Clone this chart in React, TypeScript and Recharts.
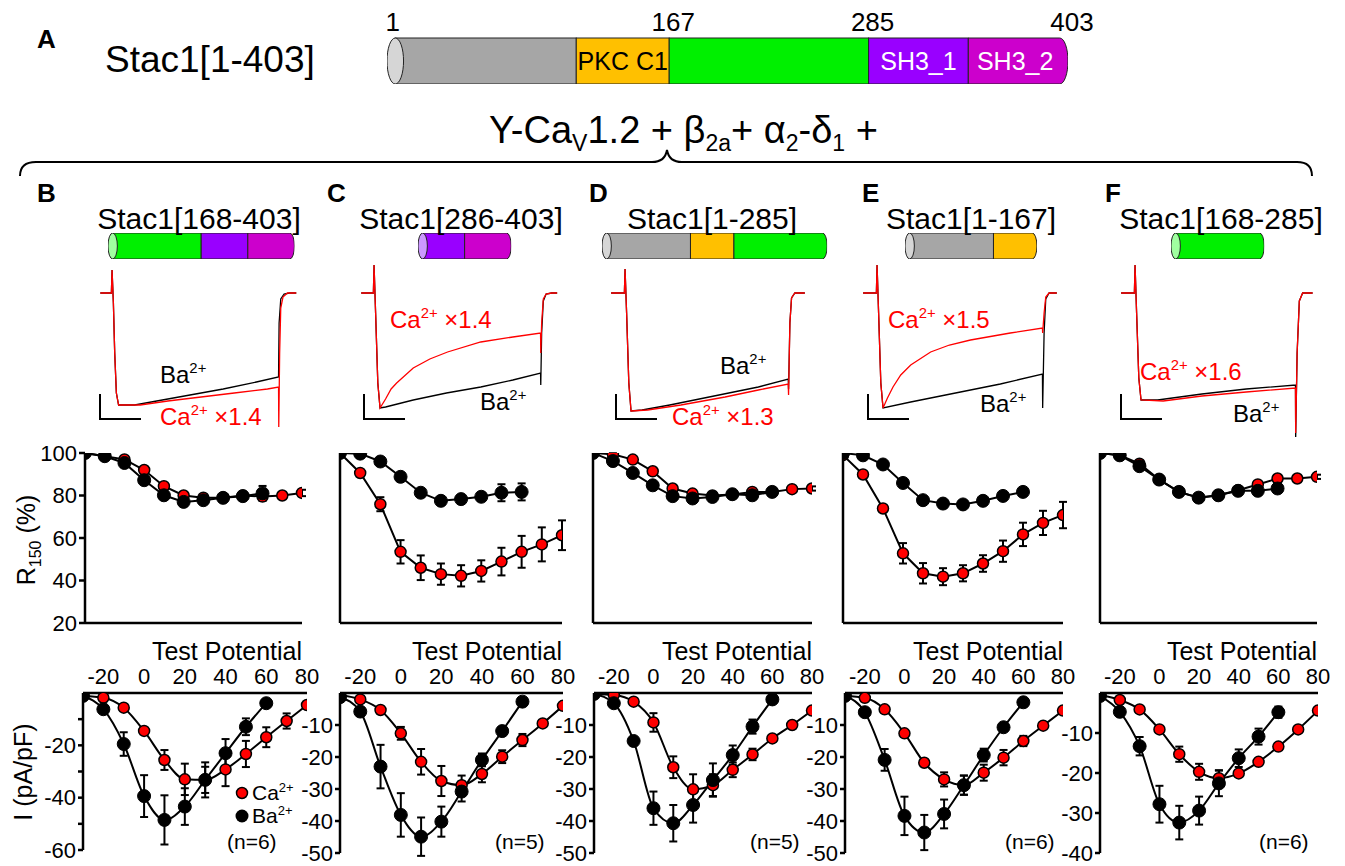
import React from 'react';
import { LineChart, Line, XAxis, YAxis, ErrorBar, BarChart, Bar } from 'recharts';

const FONT = '"Liberation Sans", Arial, Helvetica, sans-serif';

// ---------- Stac1 domain architecture ----------
const domainKeys = ['nterm', 'c1', 'linker', 'sh31', 'sh32'];
const domainLabels = ['', 'PKC C1', '', 'SH3_1', 'SH3_2'];
const domainLengths = [112, 55, 118, 59, 59];
const domainColors = ['#a6a6a6', '#ffc000', '#00f000', '#9900ff', '#cc00cc'];
const domainCapColors = ['#d6d6d6', '#ffe08a', '#a0ffa0', '#cc99ff', '#e899e8'];
const domainLabelColors = ['#000', '#000', '#000', '#fff', '#fff'];
const fullTicks = [1, 167, 285, 403];

const panelLetters = ['B', 'C', 'D', 'E', 'F'];
const constructTitles = ['Stac1[168-403]', 'Stac1[286-403]', 'Stac1[1-285]', 'Stac1[1-167]', 'Stac1[168-285]'];
const constructDomains = [[2, 3, 4], [3, 4], [0, 1, 2], [0, 1], [2]];

// ---------- Test potentials (mV) ----------
const voltages = [-30, -20, -10, 0, 10, 20, 30, 40, 50, 60, 70, 80];
const vTicks = [-20, 0, 20, 40, 60, 80];

// ---------- R150 (%) ----------
const r150Ba_B = [100, 98.5, 95.3, 87.2, 80.1, 77, 77.8, 78.9, 79.7, 81];
const r150BaErr_B = [0, 0.5, 1, 1.5, 1.5, 1.5, 1.5, 1.5, 2, 3.5];
const r150Ca_B = [100, 98.5, 97, 92, 84.4, 80, 79, 79, 80, 79.5, 80, 81.2];
const r150CaErr_B = [0, 0.5, 0.5, 1, 1, 1, 1, 1, 1, 1.5, 1.5, 1.5];

const r150Ba_C = [100, 99.7, 96, 88.8, 81.3, 77.5, 78.3, 79.4, 81.3, 81.7];
const r150BaErr_C = [0, 0, 0.5, 1, 1, 1, 1, 2, 4, 4];
const r150Ca_C = [100, 90.6, 75.9, 53.5, 46, 43, 42.2, 44.5, 48.9, 53.5, 57, 61.3];
const r150CaErr_C = [0, 1, 3.3, 5.5, 5.8, 5, 5, 5, 6.5, 7.5, 8, 7];

const r150Ba_D = [100, 96.2, 90.6, 84.8, 79.7, 78.6, 79.3, 80.6, 80.1, 81.7];
const r150BaErr_D = [0, 1, 1, 1.5, 1, 1, 1, 1, 1, 1.5];
const r150Ca_D = [100, 99.4, 96.9, 91.4, 83.3, 80.9, 80, 80.5, 81.7, 81.7, 83, 83.3];
const r150CaErr_D = [0, 0.5, 1, 1, 1, 1, 1, 1, 1, 1, 1, 1];

const r150Ba_E = [100, 98.9, 94.6, 85.9, 77.8, 76.2, 75.8, 77.5, 79.8, 81.7];
const r150BaErr_E = [0, 0, 0.5, 0.5, 0.5, 0.5, 1, 1, 1, 1.5];
const r150Ca_E = [99, 89.9, 73.9, 52.8, 43.4, 41.8, 43.4, 48, 53.8, 61.7, 67.1, 70.8];
const r150CaErr_E = [0, 1, 1.5, 4.8, 4.8, 4, 3.8, 3.9, 5, 5.5, 5.7, 6.2];

const r150Ba_F = [100, 98.9, 93.8, 87.5, 81.7, 79, 80.1, 82.2, 82.2, 83.3];
const r150BaErr_F = [0, 0, 0.5, 0.5, 1, 1, 1, 1, 1, 1];
const r150Ca_F = [100, 98.9, 95, 87.5, 81.7, 79, 80.1, 82.5, 85.2, 88, 88, 88.8];
const r150CaErr_F = [0, 0, 0.5, 0.5, 1, 1, 1, 1, 1, 1, 1, 1];

// ---------- I-V (pA/pF) ----------
const ivBa_B = [-1.1, -6.2, -19.5, -39.4, -48.5, -43.4, -33.2, -23, -12.9, -3.9];
const ivBaErr_B = [0, 1, 4.5, 8, 9.4, 7, 6.7, 5.4, 3.2, 0];
const ivCa_B = [-1.1, -1.8, -5.6, -14.5, -25.6, -33, -33.2, -29.2, -23.3, -16.9, -10.7, -4.6];
const ivCaErr_B = [0, 0, 0, 1, 3.8, 6, 5, 6.4, 5, 3.8, 2.9, 0];

const ivBa_C = [-1.3, -5.8, -23, -38.1, -44.9, -40.2, -30.8, -20.9, -11.9, -2.7];
const ivBaErr_C = [0, 0, 6.8, 6.8, 6, 4.7, 3.1, 2, 0, 0];
const ivCa_C = [-0.6, -2, -5.3, -12.6, -21.5, -27.5, -28.8, -25.3, -19.9, -14.7, -9.5, -4];
const ivCaErr_C = [0, 0, 0, 2, 4, 4.7, 3, 2.6, 2, 1.9, 0, 0];

const ivBa_D = [-0.3, -3.2, -15, -36, -40.7, -35, -27.2, -19.4, -10.5, -2];
const ivBaErr_D = [0, 0, 0, 5.2, 5.7, 5.5, 5.2, 3, 2.2, 0];
const ivCa_D = [-0.3, -0.6, -2.7, -9.2, -23.2, -30.1, -28.8, -24, -19.2, -14.2, -10, -5.5];
const ivCaErr_D = [0, 0, 0, 2.9, 3.4, 4.7, 3.4, 2.3, 1.8, 0, 0, 0];

const ivBa_E = [-0.9, -6, -20.9, -38.4, -43.6, -37.8, -28.8, -19.4, -10.7, -2.9];
const ivBaErr_E = [0, 0, 3.4, 6, 5.5, 4.5, 3, 2, 0, 0];
const ivCa_E = [-0.9, -1.5, -5.1, -12.6, -21.8, -27, -28.8, -24.9, -20.2, -15, -10.2, -5.5];
const ivCaErr_E = [0, 0, 0, 0, 0, 2.2, 3, 2.5, 2.4, 1.6, 0, 0];

const ivBa_F = [-0.75, -4.7, -13.3, -27.8, -32.4, -29.4, -22.6, -16.3, -10.9, -4.8];
const ivBaErr_F = [0, 0, 2.3, 4.6, 4.2, 3.5, 3.2, 2.2, 2, 1.4];
const ivCa_F = [-0.5, -1.75, -4.1, -9.1, -15.3, -19.7, -21.3, -20.1, -17.2, -13.4, -9.1, -4.4];
const ivCaErr_F = [0, 0, 0, 0, 1.9, 2, 2, 0, 0, 0, 0, 0];

const ivTicks_B = [-60, -50, -40, -30, -20, -10];
const ivTicks_CDE = [-50, -40, -30, -20, -10];
const ivTicks_F = [-40, -30, -20, -10];
const r150Ticks = [20, 40, 60, 80, 100];
const nLabels = ['(n=6)', '(n=5)', '(n=5)', '(n=6)', '(n=6)'];

// ---------- Example current traces: [time (ms), relative current (a.u.)] ----------
const traceBa_B = [[-11, 0], [-1, 0], [-0.4, 23], [0.8, -10], [2, -60], [3.5, -100], [5.5, -112], [20, -112], [40, -108], [70, -102], [100, -96], [130, -89], [150, -84], [150.5, -30], [152, -6], [155, -1], [160, 0], [166, 0]];
const traceCa_B = [[-11, 0], [-1, 0], [-0.4, 23], [0.8, -10], [2, -60], [3.5, -100], [5.5, -112], [25, -112], [50, -108], [80, -104], [110, -100], [140, -96], [150, -94], [150.2, -134], [151, -60], [152, -15], [154, -4], [158, 0], [166, 0]];
const traceBa_C = [[-12, 0], [-1, 0], [-0.4, 28], [1, -20], [3, -90], [5, -115], [10, -114], [35, -107], [65, -100], [96, -94], [125, -87], [150, -80], [150.2, -92], [151, -40], [152.5, -8], [155, -1], [160, 0], [165, 0]];
const traceCa_C = [[-12, 0], [-1, 0], [-0.4, 28], [1, -20], [3, -90], [5, -115], [10, -106], [15, -96], [20, -90], [35, -75], [50, -66], [66, -59], [96, -49], [125, -44], [150, -40], [150.2, -60], [151, -30], [152.5, -6], [155, -1], [160, 0], [165, 0]];
const traceBa_D = [[-13, 0], [-1, 0], [-0.4, 24], [1, -20], [3, -90], [5, -118], [15, -117], [40, -112], [80, -103], [120, -94], [147, -86], [147.3, -96], [148.5, -30], [150, -5], [153, 0], [162, 0]];
const traceCa_D = [[-13, 0], [-1, 0], [-0.4, 24], [1, -20], [3, -90], [5, -118], [20, -117], [50, -112], [90, -104], [120, -97], [147, -91], [147.3, -102], [148.5, -30], [150, -5], [153, 0], [162, 0]];
const traceBa_E = [[-13, 0], [-1, 0], [-0.4, 28], [1, -20], [3, -90], [5, -115], [30, -109], [75, -99], [111, -91], [149, -81], [149.2, -115], [150.5, -40], [152, -6], [155, 0], [162, 0]];
const traceCa_E = [[-13, 0], [-1, 0], [-0.4, 28], [1, -20], [3, -90], [5, -115], [9, -105], [14, -94], [21, -82], [30, -72], [48, -59], [65, -52], [84, -47], [120, -40], [149, -35], [149.2, -40], [150.5, -20], [152, -4], [155, 0], [162, 0]];
const traceBa_F = [[-13, 0], [-1, 0], [-0.4, 28], [1, -20], [3, -85], [5, -107], [20, -107], [60, -101], [100, -96], [144.5, -92], [144.7, -144], [146, -60], [148, -8], [151, 0], [160, 0]];
const traceCa_F = [[-13, 0], [-1, 0], [-0.4, 28], [1, -20], [3, -85], [5, -107], [25, -108], [60, -103], [100, -99], [144.5, -95], [144.7, -140], [146, -60], [148, -8], [151, 0], [160, 0]];
const caFactors = ['1.4', '1.4', '1.3', '1.5', '1.6'];

// ---------- assemble ----------
const r150 = [
  [r150Ba_B, r150BaErr_B, r150Ca_B, r150CaErr_B],
  [r150Ba_C, r150BaErr_C, r150Ca_C, r150CaErr_C],
  [r150Ba_D, r150BaErr_D, r150Ca_D, r150CaErr_D],
  [r150Ba_E, r150BaErr_E, r150Ca_E, r150CaErr_E],
  [r150Ba_F, r150BaErr_F, r150Ca_F, r150CaErr_F],
];
const iv = [
  [ivBa_B, ivBaErr_B, ivCa_B, ivCaErr_B],
  [ivBa_C, ivBaErr_C, ivCa_C, ivCaErr_C],
  [ivBa_D, ivBaErr_D, ivCa_D, ivCaErr_D],
  [ivBa_E, ivBaErr_E, ivCa_E, ivCaErr_E],
  [ivBa_F, ivBaErr_F, ivCa_F, ivCaErr_F],
];
const ivTicks = [ivTicks_B, ivTicks_CDE, ivTicks_CDE, ivTicks_CDE, ivTicks_F];
const traces = [
  [traceBa_B, traceCa_B], [traceBa_C, traceCa_C], [traceBa_D, traceCa_D], [traceBa_E, traceCa_E], [traceBa_F, traceCa_F],
];

const rows = (vals: number[], errs: number[]) => vals.map((y, i) => ({ v: voltages[i], y, e: errs[i] }));
const trRows = (pts: number[][]) => pts.map(([t, i]) => ({ t, i }));

// ---------- layout (pixels) ----------
const L = {
  r150X: [85, 340, 593, 843, 1100],
  r150W: [217, 222, 219, 220, 217],
  ivX: [83, 340, 594, 845, 1100],
  ivW: [224, 223, 218, 218, 218],
  ivH: [157, 160, 160, 160, 160],
  onset: [112, 374, 625, 877, 1135],
  cylX: [108, 418, 602, 905, 1171],
  letterX: [37, 327, 589, 862, 1105],
  titleX: [199, 461, 712, 971, 1221],
  nX: [227, 495, 750, 1005, 1259],
};

const AX = { stroke: '#000', strokeWidth: 2.5 };
const TICKFONT = { fontSize: 22, fill: '#000', fontFamily: FONT };

function CylSeg(props: any) {
  const { x, y, width, height, idx, first, last, showLabel } = props;
  if (width == null || height == null) return null;
  const rx = Math.max(4, height * 0.18);
  const fill = domainColors[idx];
  const parts: any[] = [];
  const xs = first ? x + rx : x;
  if (last) {
    parts.push(
      <path key="b" d={`M${xs},${y} H${x + width - rx} A${rx},${height / 2} 0 0 1 ${x + width - rx},${y + height} H${xs} Z`} fill={fill} stroke="#222" strokeWidth={1} />
    );
  } else {
    parts.push(<rect key="b" x={xs} y={y} width={x + width - xs} height={height} fill={fill} stroke="#222" strokeWidth={1} />);
  }
  if (first) {
    parts.push(<ellipse key="e" cx={x + rx} cy={y + height / 2} rx={rx} ry={height / 2} fill={domainCapColors[idx]} stroke="#222" strokeWidth={1} />);
  }
  if (showLabel && domainLabels[idx]) {
    parts.push(
      <text key="t" x={x + width / 2 + (last ? -3 : 0)} y={y + height / 2 + 9} textAnchor="middle" fontSize={25} fill={domainLabelColors[idx]} fontFamily={FONT}>
        {domainLabels[idx]}
      </text>
    );
  }
  return <g>{parts}</g>;
}

function Cylinder({ left, top, pxPerRes, height, domains, showLabels, showTicks }: any) {
  const total = domains.reduce((s: number, d: number) => s + domainLengths[d], 0);
  const row: any = { name: 'stac1' };
  domains.forEach((d: number) => { row[domainKeys[d]] = domainLengths[d]; });
  const axisH = showTicks ? 38 : 0;
  const mL = 12, mR = 30;
  return (
    <div style={{ position: 'absolute', left: left - mL, top: top - axisH }}>
      <BarChart width={total * pxPerRes + mL + mR} height={height + axisH} data={[row]} layout="vertical"
        margin={{ top: 0, right: mR, bottom: 0, left: mL }} barCategoryGap={0} barGap={0}>
        <XAxis type="number" domain={[0, total]} orientation="top" hide={!showTicks} height={axisH}
          ticks={showTicks ? fullTicks : undefined} interval={0} tickLine={false} axisLine={false} tickSize={0} tickMargin={7}
          tick={{ fontSize: 26, fill: '#000', fontFamily: FONT, dx: 4 }} allowDataOverflow />
        <YAxis type="category" dataKey="name" hide />
        {domains.map((d: number, k: number) => (
          <Bar key={domainKeys[d]} dataKey={domainKeys[d]} stackId="s" isAnimationActive={false}
            shape={(p: any) => <CylSeg {...p} idx={d} first={k === 0} last={k === domains.length - 1} showLabel={showLabels} />} />
        ))}
      </BarChart>
    </div>
  );
}

function R150Chart({ i }: { i: number }) {
  const [ba, baE, ca, caE] = r150[i];
  const x0 = L.r150X[i], w = L.r150W[i];
  const yw = 60;
  return (
    <div style={{ position: 'absolute', left: x0 - yw, top: 440 }}>
      <LineChart width={yw + w + 12} height={13 + 170 + 22} margin={{ top: 13, right: 12, bottom: 10, left: 0 }}>
        <XAxis type="number" dataKey="v" domain={[-30, 80]} ticks={vTicks} interval={0} tick={false} tickSize={8} height={12}
          stroke="#000" axisLine={AX} tickLine={AX} allowDataOverflow />
        <YAxis type="number" domain={[20, 100]} ticks={r150Ticks} interval={0} width={yw} tickSize={6}
          tick={i === 0 ? TICKFONT : false} stroke="#000" axisLine={AX} tickLine={AX} allowDataOverflow />
        <Line data={rows(ca, caE)} dataKey="y" type="linear" stroke="#000" strokeWidth={2} isAnimationActive={false}
          dot={{ r: 5.5, fill: '#ff0000', stroke: '#000', strokeWidth: 1.5 }} activeDot={false}>
          <ErrorBar dataKey="e" width={4} stroke="#000" strokeWidth={2} direction="y" isAnimationActive={false} />
        </Line>
        <Line data={rows(ba, baE)} dataKey="y" type="linear" stroke="#000" strokeWidth={2} isAnimationActive={false}
          dot={{ r: 6.5, fill: '#000', stroke: '#000', strokeWidth: 1 }} activeDot={false}>
          <ErrorBar dataKey="e" width={4} stroke="#000" strokeWidth={2} direction="y" isAnimationActive={false} />
        </Line>
      </LineChart>
    </div>
  );
}

function IVChart({ i }: { i: number }) {
  const [ba, baE, ca, caE] = iv[i];
  const x0 = L.ivX[i], w = L.ivW[i], h = L.ivH[i];
  const ticks = ivTicks[i];
  const yMin = ticks[0];
  const yw = 60;
  return (
    <div style={{ position: 'absolute', left: x0 - yw, top: 660 }}>
      <LineChart width={yw + w + 16} height={33 + h + 14} margin={{ top: 0, right: 16, bottom: 14, left: 0 }}>
        <XAxis type="number" dataKey="v" orientation="top" domain={[-30, 80]} ticks={vTicks} interval={0} height={33}
          tickLine={false} tickSize={6} tickMargin={3} tick={TICKFONT} stroke="#000" axisLine={AX} allowDataOverflow />
        <YAxis type="number" domain={[yMin, 0]} ticks={ticks} interval={0} width={yw} tickSize={5} tickMargin={2}
          tick={TICKFONT} tickFormatter={(v: number) => (i === 0 && v % 20 !== 0 ? '' : String(v))}
          stroke="#000" axisLine={AX} tickLine={AX} allowDataOverflow />
        <Line data={rows(ca, caE)} dataKey="y" type="monotone" stroke="#000" strokeWidth={2} isAnimationActive={false}
          dot={{ r: 5.5, fill: '#ff0000', stroke: '#000', strokeWidth: 1.5 }} activeDot={false}>
          <ErrorBar dataKey="e" width={4} stroke="#000" strokeWidth={2} direction="y" isAnimationActive={false} />
        </Line>
        <Line data={rows(ba, baE)} dataKey="y" type="monotone" stroke="#000" strokeWidth={2} isAnimationActive={false}
          dot={{ r: 6.5, fill: '#000', stroke: '#000', strokeWidth: 1 }} activeDot={false}>
          <ErrorBar dataKey="e" width={4} stroke="#000" strokeWidth={2} direction="y" isAnimationActive={false} />
        </Line>
      </LineChart>
    </div>
  );
}

const PX_PER_MS = 1.107;
function TraceChart({ i }: { i: number }) {
  const [ba, ca] = traces[i];
  const left = L.onset[i] - 14 * PX_PER_MS;
  return (
    <div style={{ position: 'absolute', left, top: 262 }}>
      <LineChart width={184 * PX_PER_MS} height={180} margin={{ top: 0, right: 0, bottom: 0, left: 0 }}>
        <XAxis type="number" dataKey="t" domain={[-14, 170]} hide allowDataOverflow />
        <YAxis type="number" domain={[-149, 31]} hide allowDataOverflow />
        <Line data={trRows(ba)} dataKey="i" type="linear" stroke="#000" strokeWidth={1.3} dot={false} activeDot={false} isAnimationActive={false} />
        <Line data={trRows(ca)} dataKey="i" type="linear" stroke="#ff0000" strokeWidth={1.3} dot={false} activeDot={false} isAnimationActive={false} />
      </LineChart>
    </div>
  );
}

function Sup({ x, y, base, sup, rest, size, fill, anchor }: any) {
  return (
    <text x={x} y={y} fontSize={size} fill={fill} fontFamily={FONT} textAnchor={anchor || 'start'}>
      {base}
      <tspan fontSize={size * 0.62} dy={-size * 0.4}>{sup}</tspan>
      <tspan dy={size * 0.4}>{rest || ''}</tspan>
    </text>
  );
}

// positions of trace annotations (pixels)
const baLabelPos = [[160, 383], [480, 410], [720, 374], [980, 412], [1233, 422]];
const caLabelPos = [[160, 425], [390, 328], [672, 425], [888, 328], [1140, 380]];
const scaleBarX = [100, 364, 616, 868, 1121];

export default function App() {
  return (
    <div style={{ position: 'absolute', left: 0, top: 0, width: 1345, height: 866, background: '#fff', fontFamily: FONT, overflow: 'hidden' }}>
      {/* Panel A cylinder */}
      <Cylinder left={387} top={38} pxPerRes={681 / 403} height={46} domains={[0, 1, 2, 3, 4]} showLabels showTicks />
      {/* construct cylinders */}
      {constructDomains.map((d, i) => (
        <Cylinder key={'c' + i} left={L.cylX[i]} top={233} pxPerRes={0.79} height={26} domains={d} showLabels={false} showTicks={false} />
      ))}
      {panelLetters.map((_, i) => <TraceChart key={'t' + i} i={i} />)}
      {panelLetters.map((_, i) => <R150Chart key={'r' + i} i={i} />)}
      {panelLetters.map((_, i) => <IVChart key={'v' + i} i={i} />)}

      <svg width={1345} height={866} style={{ position: 'absolute', left: 0, top: 0, pointerEvents: 'none' }}>
        <text x={37} y={48} fontSize={26} fontWeight="bold" fontFamily={FONT}>A</text>
        <text x={105} y={72} fontSize={37} fontFamily={FONT}>Stac1[1-403]</text>
        <text x={489} y={143} fontSize={38} fontFamily={FONT}>
          Y-Ca<tspan fontSize={23} dy={8}>V</tspan><tspan dy={-8}>1.2 + β</tspan><tspan fontSize={23} dy={8}>2a</tspan>
          <tspan dy={-8}>+ α</tspan><tspan fontSize={23} dy={8}>2</tspan><tspan dy={-8}>-δ</tspan><tspan fontSize={23} dy={8}>1</tspan>
          <tspan dy={-8}> +</tspan>
        </text>
        <path d="M20,176 Q20,162 36,162 L652,162 Q665,162 667,150 Q669,162 682,162 L1297,162 Q1312,162 1312,176" fill="none" stroke="#000" strokeWidth={2} />

        {panelLetters.map((p, i) => (
          <text key={'l' + i} x={L.letterX[i]} y={202} fontSize={26} fontWeight="bold" fontFamily={FONT}>{p}</text>
        ))}
        {constructTitles.map((t, i) => (
          <text key={'ti' + i} x={L.titleX[i]} y={229} fontSize={30} textAnchor="middle" fontFamily={FONT}>{t}</text>
        ))}

        {/* trace annotations */}
        {panelLetters.map((_, i) => (
          <g key={'an' + i}>
            <Sup x={baLabelPos[i][0]} y={baLabelPos[i][1]} base="Ba" sup="2+" size={24} fill="#000" />
            <Sup x={caLabelPos[i][0]} y={caLabelPos[i][1]} base="Ca" sup="2+" rest={' ×' + caFactors[i]} size={24} fill="#ff0000" />
            <path d={`M${scaleBarX[i]},394 V419 H${scaleBarX[i] + 41}`} fill="none" stroke="#000" strokeWidth={2} />
          </g>
        ))}

        {/* Test Potential */}
        {panelLetters.map((_, i) => (
          <text key={'tp' + i} x={L.r150X[i] + L.r150W[i]} y={660} fontSize={25} textAnchor="end" fontFamily={FONT}>Test Potential</text>
        ))}
        {nLabels.map((n, i) => (
          <text key={'n' + i} x={L.nX[i]} y={849} fontSize={21} fontFamily={FONT}>{n}</text>
        ))}

        {/* axis titles */}
        <text transform="translate(35,540) rotate(-90)" textAnchor="middle" fontSize={25} fontFamily={FONT}>
          R<tspan fontSize={16} dy={6}>150</tspan><tspan dy={-6}> (%)</tspan>
        </text>
        <text transform="translate(32,772) rotate(-90)" textAnchor="middle" fontSize={25} fontFamily={FONT}>I (pA/pF)</text>

        {/* legend in B */}
        <circle cx={242} cy={793} r={5.5} fill="#ff0000" stroke="#000" strokeWidth={1.5} />
        <Sup x={252} y={800} base="Ca" sup="2+" size={21} fill="#000" />
        <circle cx={242} cy={816} r={6.5} fill="#000" />
        <Sup x={252} y={823} base="Ba" sup="2+" size={21} fill="#000" />
      </svg>
    </div>
  );
}
